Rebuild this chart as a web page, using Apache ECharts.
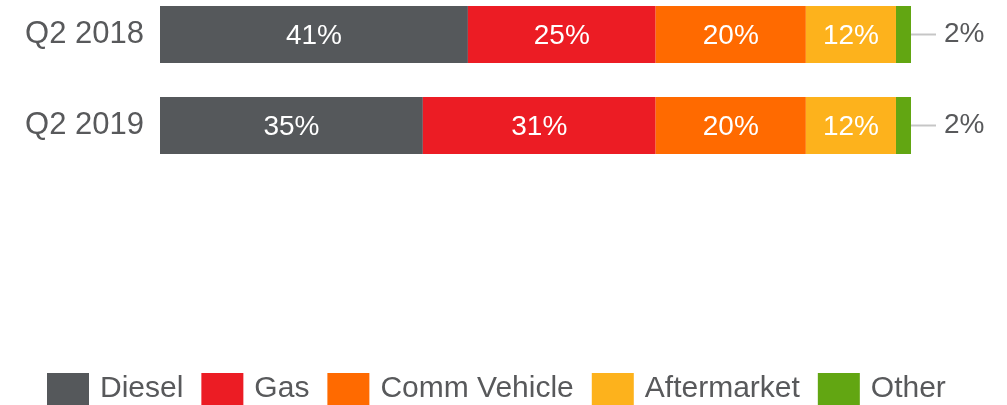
<!DOCTYPE html>
<html>
<head>
<meta charset="utf-8">
<script src="https://cdn.jsdelivr.net/npm/echarts@6/dist/echarts.min.js"></script>
<style>
  html, body { margin: 0; padding: 0; background: #fff; }
  #chart { width: 1007px; height: 405px; }
</style>
</head>
<body>
<div id="chart"></div>
<script>
// data
var categories = ["Q2 2018", "Q2 2019"];
var diesel = [41, 35];
var gas = [25, 31];
var commVehicle = [20, 20];
var aftermarket = [12, 12];
var other = [2, 2];

var FONT = "Liberation Sans, Arial, sans-serif";
var GREY = "#58595b";

function inside(name, data, color) {
  return {
    name: name,
    type: "bar",
    stack: "total",
    barWidth: 57,
    data: data,
    itemStyle: { color: color },
    label: {
      show: true,
      position: "inside",
      offset: [0, 2],
      color: "#fff",
      fontSize: 28,
      fontFamily: FONT,
      formatter: "{c}%",
    },
  };
}

var chart = echarts.init(document.getElementById("chart"));
chart.setOption({
  animation: false,
  textStyle: { fontFamily: FONT },
  grid: { left: 160, right: 96, top: -11, height: 182, outerBoundsMode: "none", containLabel: false },
  xAxis: { type: "value", min: 0, max: 100, show: false },
  yAxis: {
    type: "category",
    data: categories,
    inverse: true,
    axisLine: { show: false },
    axisTick: { show: false },
    axisLabel: { color: GREY, fontSize: 31, fontFamily: FONT, margin: 16, padding: [4, 0, 0, 0] },
  },
  legend: {
    left: 47,
    top: 373,
    padding: 0,
    icon: "rect",
    itemWidth: 42,
    itemHeight: 32,
    itemGap: 18,
    textStyle: { color: GREY, fontSize: 30, fontFamily: FONT, padding: [0, 0, 0, 6] },
  },
  series: [
    inside("Diesel", diesel, "#55585b"),
    inside("Gas", gas, "#ec1c24"),
    inside("Comm Vehicle", commVehicle, "#ff6a00"),
    inside("Aftermarket", aftermarket, "#fdb21c"),
    {
      name: "Other",
      type: "bar",
      stack: "total",
      barWidth: 57,
      data: other,
      itemStyle: { color: "#62a612" },
      label: {
        show: true,
        position: "right",
        distance: 0,
        formatter: function (p) { return "{l|}{t|" + p.value + "%}"; },
        rich: {
          l: { width: 25, height: 2, backgroundColor: "#c6c6c6" },
          t: { color: GREY, fontSize: 28, fontFamily: FONT, padding: [0, 0, 0, 8] },
        },
      },
    },
  ],
});
</script>
</body>
</html>
